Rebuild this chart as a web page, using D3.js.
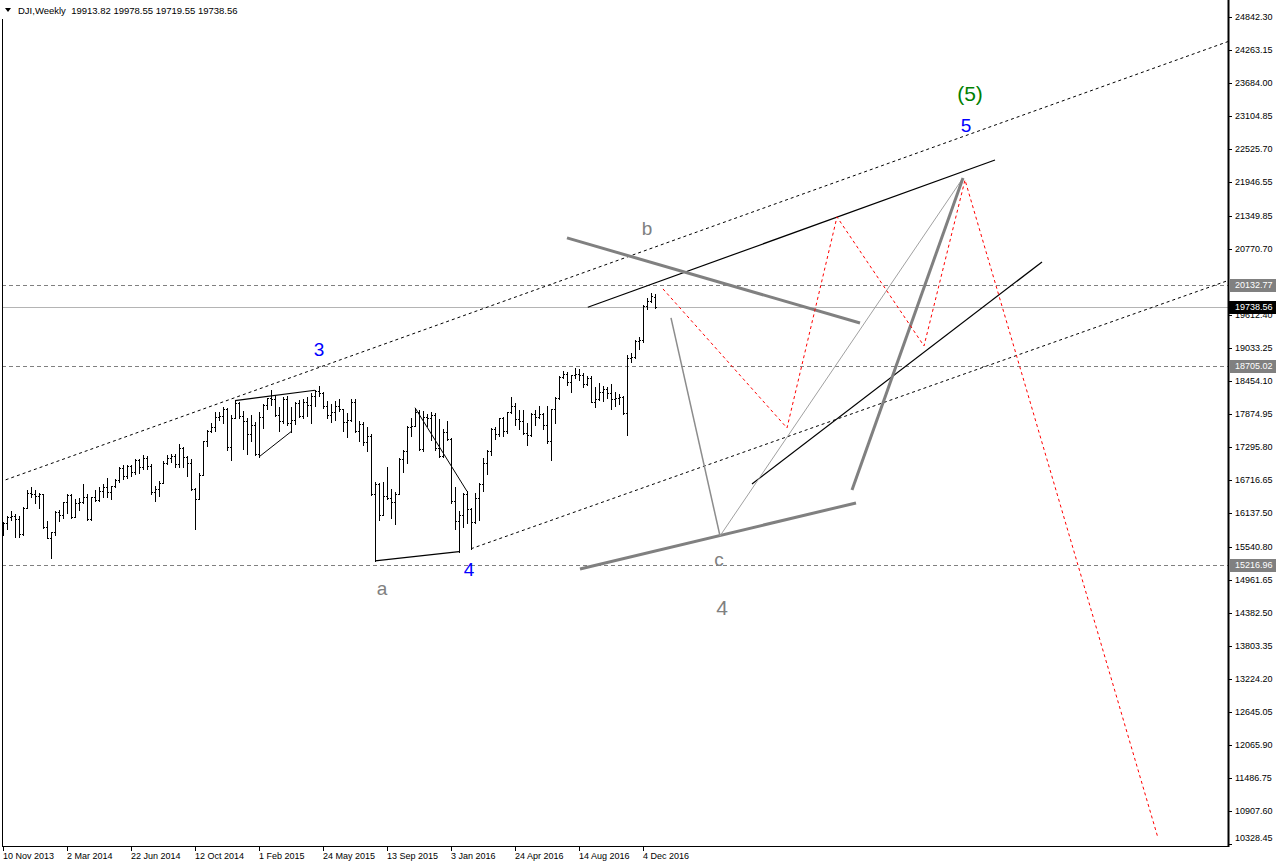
<!DOCTYPE html>
<html><head><meta charset="utf-8">
<script src="https://cdn.jsdelivr.net/npm/d3@7"></script>
<style>
body{margin:0;background:#fff;}
svg text{font-family:"Liberation Sans",Arial,sans-serif;}
</style>
</head><body>
<svg id="chart" width="1276" height="866"></svg>
<script>
// ---------------- DATA ----------------
const symbolTitle = "DJI,Weekly";
const lastOHLC = ["19913.82","19978.55","19719.55","19738.56"];

const opens = [15761,15962,16065,16086,16020,15755,16221,16478,16470,16437,16459,15879,15699,15794,16154,16103,16322,16453,16066,16303,
16323,16413,16027,16409,16361,16513,16583,16491,16606,16717,16924,16776,16947,16852,17068,16944,17100,16961,16493,16554,
16663,17001,17098,17137,16988,17280,17113,17010,16544,16380,16805,17391,17574,17635,17810,17828,17959,17281,17805,18054,
17833,17737,17512,17673,17165,17824,18019,18140,18133,17857,17749,18128,17713,17763,18058,17826,18080,18024,18191,18273,
18232,18011,17849,17899,18016,17947,17730,17760,18086,17569,17690,17373,17477,16460,16643,16102,16433,16385,16315,16472,
17084,17216,17647,17664,17910,17245,17824,17798,17848,17265,17129,17552,17425,16346,15988,16094,16466,16205,15974,16392,
16640,17007,17213,17602,17516,17793,17577,17897,18004,17774,17741,17535,17501,17873,17807,17865,17675,17401,17949,18147,
18517,18571,18432,18544,18576,18552,18395,18492,18085,18124,18261,18308,18240,18138,18146,18161,17888,18848,18868,19152,
19170,19757,19843,19913.82];
const highs = [15975,16074,16174,16117,16080,16231,16529,16588,16530,16482,16462,15984,15800,16160,16178,16325,16460,16465,16380,16397,
16632,16460,16420,16539,16588,16632,16736,16613,16730,16934,16970,16979,16978,17074,17080,17151,17135,16985,16605,16690,
17050,17153,17170,17160,17350,17290,17136,17085,16576,16825,17400,17590,17705,17895,17895,17992,17970,17852,18103,18087,
17916,17800,17848,17720,17900,18040,18150,18288,18207,17997,18166,18188,17990,18073,18110,18128,18175,18230,18285,18351,
18250,18103,18038,18098,18137,17960,17884,18137,18133,17752,17720,17640,17525,16672,16660,16666,16933,16544,16506,17100,
17242,17660,17799,17978,17930,17914,17870,17895,17880,17787,17611,17750,17440,16592,16166,16486,16511,16220,16487,16650,
17099,17240,17620,17642,17800,17810,17907,18168,18068,17930,17934,17713,17891,17933,18003,17890,18016,17960,18160,18537,
18622,18605,18560,18668,18651,18580,18534,18538,18345,18409,18365,18340,18399,18255,18223,18180,18900,18935,19160,19226,
19775,19912,19987,19978.55];
const lows = [15737,15853,16016,15704,15703,15740,16221,16412,16309,16226,15872,15690,15341,15743,15993,16040,16138,16035,16060,16190,
16310,16015,16015,16337,16340,16419,16420,16374,16595,16683,16729,16741,16781,16820,16825,16902,16904,16460,16334,16430,
16650,16990,17032,16937,16945,16945,16781,16530,15855,16370,16790,17312,17551,17575,17770,17705,17243,17068,17790,17791,
17262,17160,17400,17140,17115,17617,17949,18028,17840,17570,17713,17670,17557,17686,17810,17800,17840,17717,18000,18177,
17967,17791,17736,17761,17925,17576,17465,17750,17550,17399,17320,17227,16450,15290,16000,16090,16370,16039,15943,16460,
16842,17000,17475,17650,17230,17220,17657,17419,17232,17108,17110,17410,16314,15843,15451,15880,15960,15503,15960,16013,
16511,16818,17141,17426,17485,17484,17540,17880,17668,17609,17520,17331,17475,17667,17790,17602,17356,17063,17713,18130,
18497,18370,18247,18499,18461,18343,18380,18070,17992,18110,18094,18141,17960,18014,18052,17870,17500,18787,18850,19015,
19135,19716,19828,19719.55];
const closes = [15962,16065,16086,16020,15755,16221,16478,16470,16437,16459,15879,15699,15794,16154,16103,16322,16453,16066,16303,16323,
16413,16027,16409,16361,16513,16583,16491,16606,16717,16924,16776,16947,16852,17068,16944,17100,16961,16493,16554,16663,
17001,17098,17137,16988,17280,17113,17010,16544,16380,16805,17391,17574,17635,17810,17828,17959,17281,17805,18054,17833,
17737,17512,17673,17165,17824,18019,18140,18133,17857,17749,18128,17713,17763,18058,17826,18080,18024,18191,18273,18232,
18011,17849,17899,18016,17947,17730,17760,18086,17569,17690,17373,17477,16460,16643,16102,16433,16385,16315,16472,17084,
17216,17647,17664,17910,17245,17824,17798,17848,17265,17129,17552,17425,16346,15988,16094,16466,16205,15974,16392,16640,
17007,17213,17602,17516,17793,17577,17897,18004,17774,17741,17535,17501,17873,17807,17865,17675,17401,17949,18147,18517,
18571,18432,18544,18576,18552,18395,18492,18085,18124,18261,18308,18240,18138,18146,18161,17888,18848,18868,19152,19170,
19757,19843,19934,19738.56];

// date axis labels (bar index, label)
const dateLabelIdx = [0,16,32,48,64,80,96,112,128,144,160];
const dateLabels = ["10 Nov 2013","2 Mar 2014","22 Jun 2014","12 Oct 2014","1 Feb 2015","24 May 2015","13 Sep 2015","3 Jan 2016","24 Apr 2016","14 Aug 2016","4 Dec 2016"];

// price axis tick labels (20191.55 sits under the 20132.77 tag)
const priceTicks = [24842.30,24263.15,23684.00,23104.85,22525.70,21946.55,21349.85,20770.70,19612.40,19033.25,18454.10,
17874.95,17295.80,16716.65,16137.50,15540.80,14961.65,14382.50,13803.35,13224.20,12645.05,12065.90,11486.75,10907.60,10328.45];
const hiddenTick = 20191.55;

// horizontal levels
const grayLevels = [20132.77,18705.02,15216.96];
const bidLevel = 19738.56;

// annotation lines: [barIndex, price] endpoints
const channelUpper = [[-0.75,16677],[306.25,24404]];
const channelLower = [[117,15503],[306.25,20210]];
const wedgeUpper = [[146.2,19741],[248,22326]];
const wedgeLower = [[187.25,16640],[259.75,20536]];
const lineB = [[141,20958],[214.25,19466]];
const lineC = [[144.25,15149],[213.25,16307]];
const lineDownToC = [[167,19554],[179.25,15728]];
const lineCTo5 = [[179.25,15728],[240,22011]];
const lineThick5 = [[212.25,16535],[240,22011]];
const redPath = [[165,20063],[196,17623],[208.5,21326],[230.25,19062],[240.5,21975],[288.75,10427]];
const waveA = [[93,15290],[114,15451]];
const waveDiag = [[103,17978],[116,16511]];
const triTop = [[58,18103],[78,18285]];
const triBottom = [[64,17115],[72,17557]];

// wave labels: text, barIndex, price
const blueLabels = [["3",79,18992],["4",116.5,15131],["5",240.75,22939]];
const grayLabels = [["a",94.75,14797],["b",161,21115],["c",179,15306]];
const bigGrayLabels = [["4",179.75,14464]];
const greenLabels = [["(5)",241.75,23501]];

// ---------------- DRAW ----------------
const svg = d3.select("#chart");
const W = 1276, H = 866;
const plotRight = 1228, plotBottom = 846, plotLeft = 2;

const x = d3.scaleLinear().domain([0,163]).range([3,655]);
const y = d3.scaleLinear().domain([10328.45,24842.30]).range([843.6,16.6]);

svg.append("defs").append("clipPath").attr("id","plot")
  .append("rect").attr("x",plotLeft).attr("y",0).attr("width",plotRight-plotLeft).attr("height",plotBottom);

const g = svg.append("g").attr("clip-path","url(#plot)");

// horizontal levels
g.selectAll("line.lvl").data(grayLevels).enter().append("line")
  .attr("x1",plotLeft).attr("x2",plotRight)
  .attr("y1",d=>Math.round(y(d))+0.5).attr("y2",d=>Math.round(y(d))+0.5)
  .attr("stroke","#808080").attr("stroke-width",1).attr("stroke-dasharray","4,3");
g.append("line").attr("x1",plotLeft).attr("x2",plotRight)
  .attr("y1",Math.round(y(bidLevel))+0.5).attr("y2",Math.round(y(bidLevel))+0.5)
  .attr("stroke","#b4b4b4").attr("stroke-width",1);

// bars
const bars = g.append("g").attr("shape-rendering","crispEdges").attr("fill","#000");
closes.forEach((c,i)=>{
  const xi = Math.round(x(i));
  const yh = Math.round(y(highs[i])), yl = Math.round(y(lows[i]));
  bars.append("rect").attr("x",xi).attr("y",yh).attr("width",1).attr("height",Math.max(1,yl-yh+1));
  bars.append("rect").attr("x",xi-1).attr("y",Math.round(y(opens[i]))).attr("width",1).attr("height",1);
  bars.append("rect").attr("x",xi+1).attr("y",Math.round(y(c))).attr("width",1).attr("height",1);
});

const line = d3.line().x(d=>x(d[0])).y(d=>y(d[1]));
function seg(pts, color, w, dash){
  const p = g.append("path").attr("d",line(pts)).attr("fill","none")
    .attr("stroke",color).attr("stroke-width",w);
  if(dash) p.attr("stroke-dasharray",dash);
  return p;
}
seg(channelUpper,"#000",1,"3,3");
seg(channelLower,"#000",1,"3,3");
seg(wedgeUpper,"#000",1.2);
seg(wedgeLower,"#000",1.2);
seg(lineB,"#808080",3);
seg(lineC,"#808080",3);
seg(lineDownToC,"#8c8c8c",1.5);
seg(lineCTo5,"#a0a0a0",1);
seg(lineThick5,"#808080",3);
seg(redPath,"#ff0000",1,"3,3");
seg(waveA,"#000",1.2);
seg(waveDiag,"#000",1);
seg(triTop,"#000",1.2);
seg(triBottom,"#000",1);

// labels
function lbl(arr, color, size){
  arr.forEach(d=>{
    g.append("text").attr("x",x(d[1])).attr("y",y(d[2]))
      .attr("text-anchor","middle").attr("dominant-baseline","central")
      .attr("fill",color).attr("font-size",size).text(d[0]);
  });
}
lbl(blueLabels,"#0000ff",19);
lbl(grayLabels,"#808080",19);
lbl(bigGrayLabels,"#808080",21);
lbl(greenLabels,"#008000",21);

// frame
svg.append("line").attr("x1",plotRight+0.5).attr("x2",plotRight+0.5).attr("y1",0).attr("y2",plotBottom+1)
  .attr("stroke","#000").attr("stroke-width",2);
svg.append("line").attr("x1",plotLeft).attr("x2",plotRight).attr("y1",plotBottom+0.5).attr("y2",plotBottom+0.5)
  .attr("stroke","#000").attr("stroke-width",1);
svg.append("line").attr("x1",plotLeft+0.5).attr("x2",plotLeft+0.5).attr("y1",19).attr("y2",plotBottom)
  .attr("stroke","#000").attr("stroke-width",1);

// price axis
const ax = svg.append("g");
priceTicks.forEach(p=>{
  const yy = Math.round(y(p));
  const ty = Math.min(yy, plotBottom-8);
  ax.append("line").attr("x1",plotRight).attr("x2",plotRight+4).attr("y1",yy+0.5).attr("y2",yy+0.5).attr("stroke","#000");
  ax.append("text").attr("x",plotRight+7).attr("y",ty).attr("dominant-baseline","central")
    .attr("font-size",9).attr("fill","#000").text(p.toFixed(2));
});
// partially hidden tick peeking above the 20132.77 tag
{
  const yy = Math.round(y(hiddenTick));
  svg.append("defs").append("clipPath").attr("id","peek")
    .append("rect").attr("x",plotRight).attr("y",yy-6).attr("width",W-plotRight).attr("height",3);
  ax.append("text").attr("x",plotRight+7).attr("y",yy).attr("dominant-baseline","central")
    .attr("clip-path","url(#peek)").attr("font-size",9).attr("fill","#000").text(hiddenTick.toFixed(2));
}
function tag(p, bg){
  const yy = Math.round(y(p));
  ax.append("rect").attr("x",plotRight+1).attr("y",yy-6).attr("width",W-plotRight-1).attr("height",13).attr("fill",bg);
  ax.append("text").attr("x",plotRight+7).attr("y",yy).attr("dominant-baseline","central")
    .attr("font-size",9).attr("fill","#fff").text(p.toFixed(2));
}
grayLevels.forEach(p=>tag(p,"#808080"));
tag(bidLevel,"#000");

// date axis
dateLabelIdx.forEach((bi,k)=>{
  const xx = Math.round(x(bi));
  ax.append("line").attr("x1",xx+0.5).attr("x2",xx+0.5).attr("y1",plotBottom).attr("y2",plotBottom+5).attr("stroke","#000");
  ax.append("text").attr("x",xx).attr("y",plotBottom+13).attr("font-size",9).attr("fill","#000").text(dateLabels[k]);
});

// header
svg.append("rect").attr("x",0).attr("y",0).attr("width",245).attr("height",18).attr("fill","#fff");
svg.append("path").attr("d","M5,8 L11,8 L8,12 Z").attr("fill","#000");
svg.append("text").attr("x",18).attr("y",10).attr("dominant-baseline","central").attr("font-size",9.5)
  .attr("fill","#000").attr("xml:space","preserve")
  .text(symbolTitle + "  " + lastOHLC.join(" "));
</script>
</body></html>
